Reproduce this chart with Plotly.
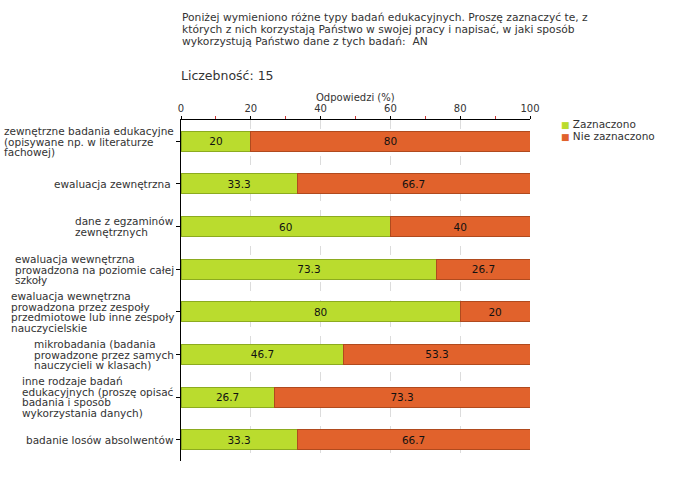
import plotly.graph_objects as go

# ---- data ----
label_lines = [
    ["zewnętrzne badania edukacyjne", "(opisywane np. w literaturze", "fachowej)"],
    ["ewaluacja zewnętrzna "],
    ["dane z egzaminów", "zewnętrznych"],
    ["ewaluacja wewnętrzna", "prowadzona na poziomie całej", "szkoły"],
    ["ewaluacja wewnętrzna", "prowadzona przez zespoły", "przedmiotowe lub inne zespoły", "nauczycielskie"],
    ["mikrobadania (badania", "prowadzone przez samych", "nauczycieli w klasach)"],
    ["inne rodzaje badań", "edukacyjnych (proszę opisać", "badania i sposób", "wykorzystania danych)"],
    ["badanie losów absolwentów"],
]
categories = ["<br>".join(l) for l in label_lines]
zaznaczono = [20, 33.3, 60, 73.3, 80, 46.7, 26.7, 33.3]
nie_zaznaczono = [80, 66.7, 40, 26.7, 20, 53.3, 73.3, 66.7]
series_names = ["Zaznaczono", "Nie zaznaczono"]
x_ticks = [0, 20, 40, 60, 80, 100]
title_lines = [
    "Poniżej wymieniono różne typy badań edukacyjnych. Proszę zaznaczyć te, z",
    "których z nich korzystają Państwo w swojej pracy i napisać, w jaki sposób",
    "wykorzystują Państwo dane z tych badań:  AN",
]
count_text = "Liczebność: 15"
axis_title = "Odpowiedzi (%)"

GREEN = "#badc2e"
GREEN_LINE = "#8cab1f"
ORANGE = "#e1622c"
ORANGE_LINE = "#b04a1e"
TXT = "#333333"
FONT = "DejaVu Sans"

fig = go.Figure()
fig.add_bar(
    y=categories, x=zaznaczono, orientation="h", name=series_names[0],
    marker=dict(color=GREEN, line=dict(color=GREEN_LINE, width=1)),
    text=[f"{v:g}" for v in zaznaczono], textposition="inside",
    insidetextanchor="middle", textfont=dict(color="#111111", size=10.5, family=FONT),
    width=0.47, hoverinfo="skip",
)
fig.add_bar(
    y=categories, x=nie_zaznaczono, orientation="h", name=series_names[1],
    marker=dict(color=ORANGE, line=dict(color=ORANGE_LINE, width=1)),
    text=[f"{v:g}" for v in nie_zaznaczono], textposition="inside",
    insidetextanchor="middle", textfont=dict(color="#111111", size=10.5, family=FONT),
    width=0.47, hoverinfo="skip",
)

W, H = 680, 480
ML, MR, MT, MB = 181, 150, 120, 19
PW, PH = W - ML - MR, H - MT - MB

def px_x(x):
    return (x - ML) / PW

def px_y(y):
    return 1 - (y - MT) / PH

annotations = []
# title
annotations.append(dict(
    text="<br>".join(f"<span style='font-size:10.7px'>{t}</span>" for t in title_lines),
    x=px_x(180), y=px_y(9), xref="paper", yref="paper", xanchor="left", yanchor="top",
    align="left", showarrow=False, font=dict(size=9.1, color=TXT, family=FONT),
))
annotations.append(dict(
    text=count_text, x=px_x(179), y=px_y(75), xref="paper", yref="paper",
    xanchor="left", yanchor="middle", showarrow=False,
    font=dict(size=12.5, color=TXT, family=FONT),
))
annotations.append(dict(
    text=axis_title, x=0.5, y=px_y(97), xref="paper", yref="paper",
    xanchor="center", yanchor="middle", showarrow=False,
    font=dict(size=10, color=TXT, family=FONT),
))
# legend
for i, (name, col) in enumerate(zip(series_names, [GREEN, ORANGE])):
    annotations.append(dict(
        text=f"<span style='color:{col};font-size:9px'>■</span> {name}",
        x=px_x(559), y=px_y(124 + 12 * i), xref="paper", yref="paper",
        xanchor="left", yanchor="middle", showarrow=False,
        font=dict(size=10.5, color=TXT, family=FONT),
    ))
# category labels
for cat, lines in zip(categories, label_lines):
    annotations.append(dict(
        text="<br>".join(f"<span style='font-size:10.5px'>{t}</span>" for t in lines),
        x=0, y=cat, xref="paper", yref="y", xanchor="right", yanchor="middle",
        xshift=-5, align="left", showarrow=False,
        font=dict(size=8.2, color=TXT, family=FONT),
    ))

fig.update_layout(
    width=W, height=H, barmode="stack",
    margin=dict(l=ML, r=MR, t=MT, b=MB, pad=0),
    paper_bgcolor="white", plot_bgcolor="white",
    showlegend=False, font=dict(family=FONT, color=TXT),
    annotations=annotations,
    xaxis=dict(
        side="top", range=[0, 100], tickvals=x_ticks, ticks="outside", ticklen=3,
        tickcolor="black", showline=True, linecolor="black", linewidth=1,
        showgrid=True, gridcolor="#dcdcdc", griddash="dash", zeroline=False,
        tickfont=dict(size=10, color=TXT, family=FONT),
        minor=dict(dtick=10, ticks="outside", ticklen=3, tickcolor="#cc3333", showgrid=False),
    ),
    yaxis=dict(
        range=[len(categories) - 0.5, -0.5], showline=True, linecolor="black", linewidth=1,
        ticks="outside", ticklen=4, tickcolor="black", showticklabels=False,
        showgrid=False, zeroline=False,
    ),
)

fig.write_html("out.html", config={"displayModeBar": False},
               post_script="document.body.style.margin='0';")
